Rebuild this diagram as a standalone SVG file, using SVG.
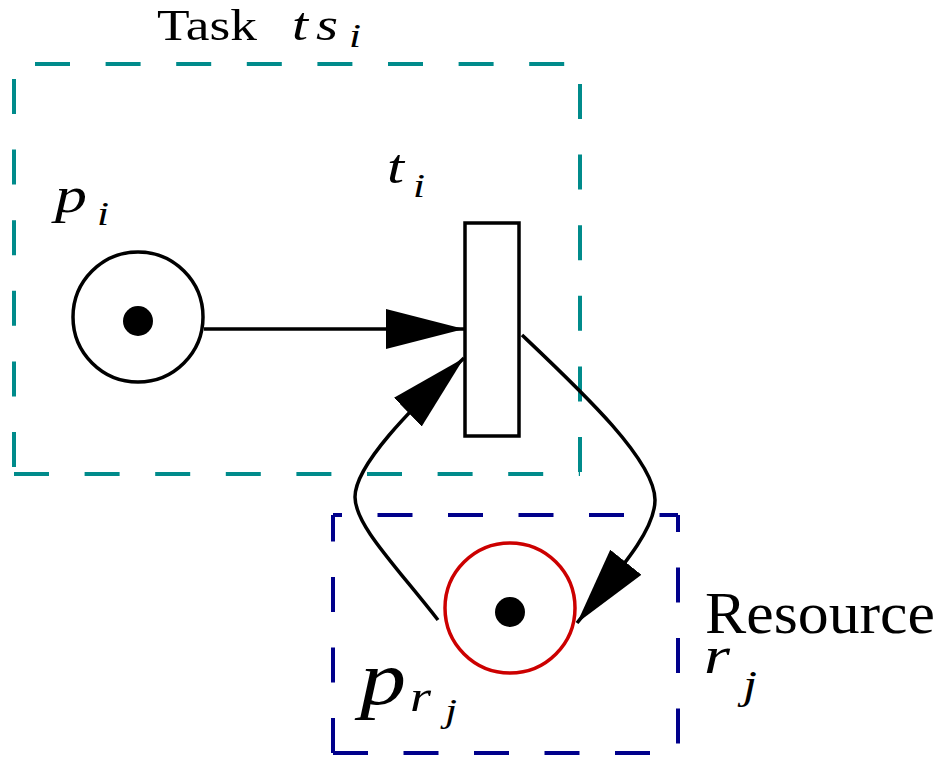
<svg xmlns="http://www.w3.org/2000/svg" width="941" height="760" viewBox="0 0 941 760">
<style>
  .teal { stroke:#008B8B; stroke-width:4; stroke-dasharray:35 35.6; fill:none; }
  .blue { stroke:#00008B; stroke-width:4; stroke-dasharray:35 35.5; fill:none; }
  .arc { stroke:#000; stroke-width:3.5; fill:none; }
  .place { stroke:#000; stroke-width:3.5; fill:#fff; }
  .res { stroke:#CC0000; stroke-width:3.5; fill:#fff; }
  .tok { fill:#000; }
  .txt { font-family:"Liberation Serif", "Times New Roman", serif; fill:#000; }
  .mi { font-family:"Liberation Serif", "Times New Roman", serif; font-style:italic; fill:#000; }
</style>
<defs>
  <marker id="ah" markerUnits="userSpaceOnUse" markerWidth="80" markerHeight="42" refX="78" refY="21" orient="auto">
    <path d="M0,1 L78,21 L0,41 z" fill="#000"/>
  </marker>
</defs>

<g id="task-box">
  <line class="teal" x1="35" y1="64" x2="580" y2="64"/>
  <line class="teal" x1="14" y1="79" x2="14" y2="474"/>
  <line class="teal" x1="14" y1="474" x2="580" y2="474"/>
  <line class="teal" x1="580" y1="84" x2="580" y2="474"/>
  <text class="txt" x="157" y="40" font-size="45" textLength="100" lengthAdjust="spacingAndGlyphs">Task</text>
  <text class="mi" x="292" y="40" font-size="46" textLength="16" lengthAdjust="spacingAndGlyphs">t</text>
  <text class="mi" x="316" y="40" font-size="46" textLength="22" lengthAdjust="spacingAndGlyphs">s</text>
  <text class="mi" x="349" y="47" font-size="34" textLength="12" lengthAdjust="spacingAndGlyphs">i</text>
</g>

<g id="resource-box">
  <line class="blue" x1="333" y1="753" x2="333" y2="515"/>
  <line class="blue" x1="333" y1="515" x2="678" y2="515" stroke-dashoffset="26"/>
  <line class="blue" x1="678" y1="515" x2="678" y2="753" stroke-dashoffset="18"/>
  <line class="blue" x1="333" y1="753" x2="678" y2="753"/>
  <text class="txt" x="705" y="633" font-size="60" textLength="230" lengthAdjust="spacingAndGlyphs">Resource</text>
  <text class="mi" x="704" y="673" font-size="52" textLength="26" lengthAdjust="spacingAndGlyphs">r</text>
  <text class="mi" x="743" y="698" font-size="40" textLength="14" lengthAdjust="spacingAndGlyphs">j</text>
</g>

<g id="connectors">
  <path class="arc" d="M204,329 L464,329" marker-end="url(#ah)"/>
  <path class="arc" d="M438,620 C395,565 355,525 355,497 C355,465 410,410 464,358" marker-end="url(#ah)"/>
  <path class="arc" d="M522,335 C580,390 655,460 655,500 C655,530 622,567 577,623" marker-end="url(#ah)"/>
</g>

<g id="p_i">
  <circle class="place" cx="138" cy="317" r="65"/>
  <circle class="tok" cx="138" cy="321" r="15"/>
  <text class="mi" x="55" y="212" font-size="51" textLength="32" lengthAdjust="spacingAndGlyphs">p</text>
  <text class="mi" x="97" y="225" font-size="34" textLength="12" lengthAdjust="spacingAndGlyphs">i</text>
</g>

<g id="t_i">
  <rect x="465" y="223" width="54" height="213" fill="#fff" stroke="#000" stroke-width="3.5"/>
  <text class="mi" x="387" y="183" font-size="48" textLength="17" lengthAdjust="spacingAndGlyphs">t</text>
  <text class="mi" x="413" y="197" font-size="34" textLength="12" lengthAdjust="spacingAndGlyphs">i</text>
</g>

<g id="p_rj">
  <circle class="res" cx="510" cy="608" r="65"/>
  <circle class="tok" cx="510" cy="612" r="15"/>
  <text class="mi" x="360" y="704" font-size="76" textLength="46" lengthAdjust="spacingAndGlyphs">p</text>
  <text class="mi" x="410" y="711" font-size="44" textLength="21" lengthAdjust="spacingAndGlyphs">r</text>
  <text class="mi" x="445" y="722" font-size="34" textLength="12" lengthAdjust="spacingAndGlyphs">j</text>
</g>
</svg>
